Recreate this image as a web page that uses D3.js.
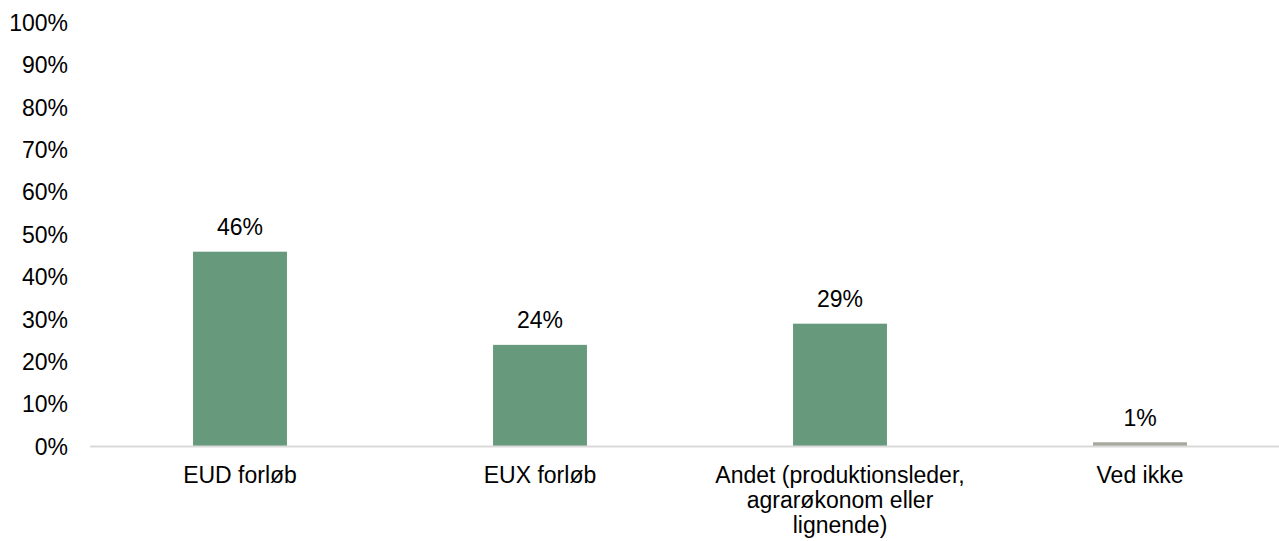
<!DOCTYPE html>
<html>
<head>
<meta charset="utf-8">
<script src="https://cdn.jsdelivr.net/npm/d3@7"></script>
<style>
    html, body { margin: 0; padding: 0; background: #fff; }
    svg text { font-family: "Liberation Sans", Arial, sans-serif; fill: #000; }
</style>
</head>
<body>
<div id="chart"></div>
<script>
// 数据
var categories = [
    ["EUD forløb"],
    ["EUX forløb"],
    ["Andet (produktionsleder,", "agrarøkonom eller", "lignende)"],
    ["Ved ikke"]
];
var values = [0.46, 0.24, 0.29, 0.01];
var barColors = ["#679a7c", "#679a7c", "#679a7c", "#a7a89c"];
var yTicks = [0, 0.1, 0.2, 0.3, 0.4, 0.5, 0.6, 0.7, 0.8, 0.9, 1];

var width = 1279, height = 541;
var fontSize = 23;

var svg = d3.select('#chart')
    .append('svg')
    .attr('width', width)
    .attr('height', height);

var x = d3.scaleBand()
    .domain(d3.range(categories.length))
    .range([90, 1290])
    .paddingInner(0.687)
    .paddingOuter(0.3435);

var y = d3.scaleLinear()
    .domain([0, 1])
    .range([446.5, 23]);

// y轴文字
svg.append('g')
    .selectAll('text')
    .data(yTicks)
    .enter()
    .append('text')
    .attr('x', 68)
    .attr('y', function (d) { return y(d); })
    .attr('dy', '0.35em')
    .attr('text-anchor', 'end')
    .style('font-size', fontSize + 'px')
    .text(d3.format('.0%'));

// 柱子
svg.append('g')
    .selectAll('rect')
    .data(values)
    .enter()
    .append('rect')
    .attr('x', function (d, i) { return x(i); })
    .attr('width', x.bandwidth())
    .attr('y', function (d) { return y(d); })
    .attr('height', function (d) { return y(0) - y(d); })
    .attr('fill', function (d, i) { return barColors[i]; });

// 横轴线
svg.append('line')
    .attr('x1', 90)
    .attr('x2', 1290)
    .attr('y1', y(0))
    .attr('y2', y(0))
    .attr('stroke', '#d9d9d9')
    .attr('stroke-width', 2);

// 数值标签
svg.append('g')
    .selectAll('text')
    .data(values)
    .enter()
    .append('text')
    .attr('x', function (d, i) { return x(i) + x.bandwidth() / 2; })
    .attr('y', function (d) { return y(d) - 16.5; })
    .attr('text-anchor', 'middle')
    .style('font-size', fontSize + 'px')
    .text(d3.format('.0%'));

// 类别标签
var cat = svg.append('g')
    .selectAll('text')
    .data(categories)
    .enter()
    .append('text')
    .attr('text-anchor', 'middle')
    .attr('y', y(0) + 36.5)
    .style('font-size', fontSize + 'px');

cat.each(function (lines, i) {
    var t = d3.select(this);
    lines.forEach(function (line, j) {
        t.append('tspan')
            .attr('x', x(i) + x.bandwidth() / 2)
            .attr('dy', j === 0 ? 0 : 25)
            .text(line);
    });
});
</script>
</body>
</html>
